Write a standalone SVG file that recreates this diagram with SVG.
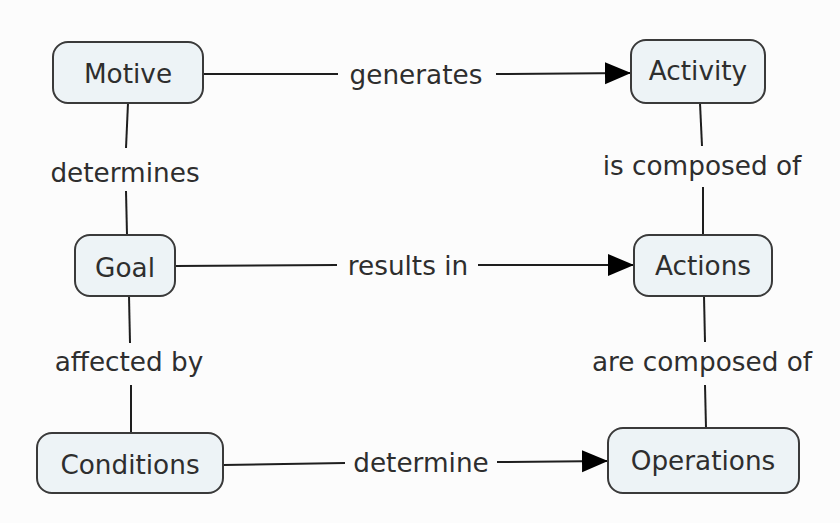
<svg xmlns="http://www.w3.org/2000/svg" width="840" height="523" viewBox="0 0 840 523">
<defs>
<style>
.node rect{fill:#edf3f6;stroke:#3a3a3a;stroke-width:2}
text{font-family:"DejaVu Sans",Verdana,sans-serif;font-size:26.3px;fill:#2e2e2e;text-anchor:middle}
.conn line{stroke:#1e1e1e;stroke-width:2}
</style>
<marker id="arr" markerUnits="userSpaceOnUse" markerWidth="28" markerHeight="24" refX="26" refY="11" orient="auto">
<path d="M0,0 L26,11 L0,22 z" fill="#000"/>
</marker>
</defs>
<rect width="840" height="523" fill="#fcfcfc"/>
<g class="conn" id="connectors">
<line x1="203" y1="74" x2="338" y2="74"/>
<line x1="496" y1="74" x2="631" y2="73" marker-end="url(#arr)"/>
<text x="416" y="84">generates</text>
<line x1="175" y1="266" x2="337" y2="265"/>
<line x1="478" y1="265" x2="634" y2="265" marker-end="url(#arr)"/>
<text x="408" y="275">results in</text>
<line x1="223" y1="465" x2="345" y2="463"/>
<line x1="497" y1="462" x2="608" y2="461" marker-end="url(#arr)"/>
<text x="421" y="472">determine</text>
<line x1="128" y1="103" x2="126" y2="148"/>
<line x1="126" y1="191" x2="127" y2="235"/>
<text x="125" y="182">determines</text>
<line x1="129" y1="296" x2="130" y2="343"/>
<line x1="131" y1="385" x2="131" y2="433"/>
<text x="129" y="371">affected by</text>
<line x1="700" y1="103" x2="702" y2="146"/>
<line x1="703" y1="187" x2="703" y2="235"/>
<text x="702" y="175">is composed of</text>
<line x1="704" y1="296" x2="705" y2="342"/>
<line x1="705" y1="385" x2="706" y2="428"/>
<text x="702" y="371">are composed of</text>
</g>
<g class="node" id="motive"><rect x="53" y="42" width="150" height="61" rx="15"/><text x="128" y="83">Motive</text></g>
<g class="node" id="activity"><rect x="631" y="40" width="134" height="63" rx="15"/><text x="698" y="80">Activity</text></g>
<g class="node" id="goal"><rect x="75" y="235" width="100" height="61" rx="15"/><text x="125" y="277">Goal</text></g>
<g class="node" id="actions"><rect x="634" y="235" width="138" height="61" rx="15"/><text x="703" y="275">Actions</text></g>
<g class="node" id="conditions"><rect x="37" y="433" width="186" height="60" rx="15"/><text x="130" y="474">Conditions</text></g>
<g class="node" id="operations"><rect x="608" y="428" width="191" height="65" rx="15"/><text x="703" y="470">Operations</text></g>
</svg>
